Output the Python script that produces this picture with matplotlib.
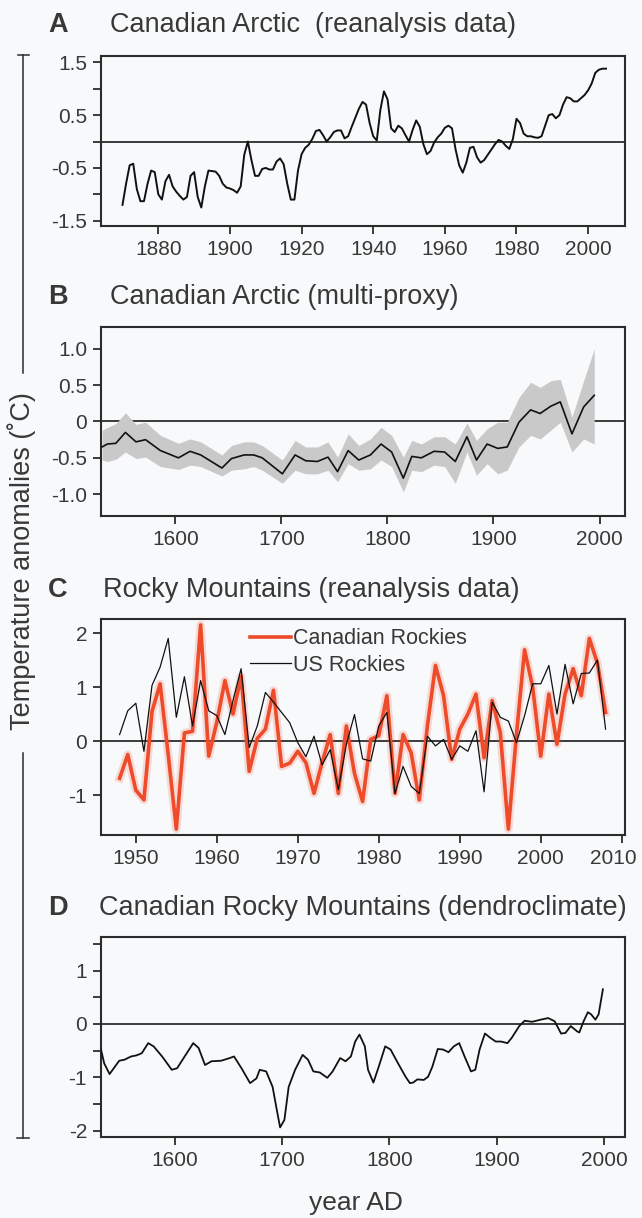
import numpy as np
import matplotlib.pyplot as plt
from matplotlib.lines import Line2D
from matplotlib.ticker import FixedLocator, FixedFormatter
from matplotlib.transforms import ScaledTranslation

# ---- panel A: Canadian Arctic reanalysis (annual) ----
a_years = list(range(1870, 2006))
a_vals = [-1.20, -0.80, -0.45, -0.42, -0.90, -1.13, -1.13, -0.80, -0.55, -0.58,
          -1.00, -1.10, -0.75, -0.63, -0.85, -0.95, -1.03, -1.10, -1.05, -0.65,
          -0.58, -1.05, -1.25, -0.85, -0.55, -0.56, -0.57, -0.65, -0.80, -0.87,
          -0.89, -0.92, -0.97, -0.85, -0.25, 0.00, -0.35, -0.65, -0.65, -0.52,
          -0.50, -0.53, -0.53, -0.38, -0.32, -0.43, -0.80, -1.10, -1.10, -0.55,
          -0.24, -0.12, -0.06, 0.05, 0.20, 0.22, 0.12, 0.00, 0.08, 0.18,
          0.21, 0.21, 0.06, 0.10, 0.28, 0.45, 0.62, 0.75, 0.70, 0.35,
          0.10, 0.02, 0.60, 0.95, 0.80, 0.25, 0.18, 0.30, 0.25, 0.12,
          0.00, 0.22, 0.40, 0.28, -0.05, -0.24, -0.18, -0.02, 0.08, 0.15,
          0.26, 0.30, 0.25, -0.15, -0.45, -0.59, -0.40, -0.12, -0.10, -0.30,
          -0.40, -0.35, -0.25, -0.15, -0.05, 0.03, 0.00, -0.08, -0.14, 0.05,
          0.43, 0.35, 0.15, 0.10, 0.10, 0.08, 0.07, 0.10, 0.30, 0.50,
          0.52, 0.44, 0.50, 0.70, 0.84, 0.82, 0.76, 0.76, 0.82, 0.88,
          0.97, 1.10, 1.30, 1.36, 1.38, 1.38]

# ---- panel B: Canadian Arctic multi-proxy ----
b_years = [1531, 1536, 1544, 1553, 1563, 1572, 1586, 1603, 1614, 1624,
           1644, 1653, 1665, 1674, 1682, 1701, 1713, 1723, 1734, 1744,
           1753, 1763, 1773, 1784, 1794, 1804, 1815, 1823, 1832, 1844,
           1854, 1864, 1875, 1884, 1894, 1904, 1913, 1924, 1935, 1944,
           1954, 1963, 1974, 1985, 1995]
b_vals = [-0.35, -0.31, -0.30, -0.15, -0.28, -0.25, -0.40, -0.50, -0.41, -0.46,
          -0.64, -0.51, -0.46, -0.46, -0.50, -0.72, -0.46, -0.54, -0.55, -0.49,
          -0.69, -0.40, -0.53, -0.46, -0.31, -0.42, -0.78, -0.48, -0.50, -0.41,
          -0.42, -0.55, -0.21, -0.53, -0.31, -0.37, -0.35, -0.01, 0.16, 0.11,
          0.21, 0.27, -0.17, 0.20, 0.36]
b_upper = [-0.12, -0.08, -0.03, 0.12, -0.04, -0.01, -0.19, -0.30, -0.24, -0.28,
           -0.46, -0.33, -0.28, -0.28, -0.33, -0.53, -0.26, -0.35, -0.35, -0.28,
           -0.49, -0.17, -0.33, -0.24, -0.08, -0.19, -0.49, -0.26, -0.31, -0.21,
           -0.21, -0.31, -0.02, -0.26, -0.10, -0.01, -0.01, 0.33, 0.54, 0.47,
           0.56, 0.58, 0.06, 0.56, 1.00]
b_lower = [-0.53, -0.55, -0.52, -0.42, -0.51, -0.49, -0.62, -0.66, -0.60, -0.62,
           -0.75, -0.67, -0.65, -0.62, -0.67, -0.85, -0.67, -0.72, -0.72, -0.67,
           -0.83, -0.58, -0.67, -0.65, -0.53, -0.62, -0.97, -0.67, -0.69, -0.60,
           -0.62, -0.85, -0.42, -0.74, -0.58, -0.72, -0.67, -0.35, -0.19, -0.24,
           -0.12, -0.01, -0.42, -0.24, -0.31]

# ---- panel C: Rocky Mountains reanalysis ----
c_years = list(range(1948, 2009))
c_canada = [-0.69, -0.25, -0.91, -1.09, 0.55, 1.06, -0.25, -1.63, 0.15, 0.18,
            2.15, -0.28, 0.35, 1.12, 0.50, 1.20, -0.56, 0.05, 0.22, 0.94,
            -0.47, -0.41, -0.19, -0.40, -0.97, -0.40, 0.12, -0.97, 0.28, -0.60,
            -1.12, 0.03, 0.10, 0.84, -0.97, 0.12, -0.22, -1.09, 0.28, 1.40,
            0.84, -0.34, 0.22, 0.50, 0.87, -0.31, 0.75, 0.16, -1.63, 0.12,
            1.69, 1.00, -0.28, 0.87, -0.06, 0.87, 1.34, 0.84, 1.90, 1.44,
            0.53]
c_us = [0.12, 0.56, 0.70, -0.19, 1.03, 1.37, 1.90, 0.44, 1.19, 0.28,
        1.12, 0.56, 0.47, 0.12, 0.75, 1.34, -0.12, 0.28, 0.90, 0.72,
        0.53, 0.34, -0.03, -0.29, 0.09, -0.44, -0.16, -0.90, -0.06, 0.49,
        -0.33, -0.37, 0.28, 0.53, -0.97, -0.47, -0.84, -0.97, 0.09, -0.09,
        0.03, -0.34, -0.09, -0.19, 0.19, -0.94, 0.72, 0.44, 0.37, -0.03,
        0.47, 1.06, 1.06, 1.40, 0.50, 1.42, 0.69, 1.25, 1.26, 1.50,
        0.22]

# ---- panel D: Canadian Rocky Mountains dendroclimate ----
d_years = [1531, 1534, 1539, 1544, 1548, 1553, 1559, 1564, 1569, 1575,
           1580, 1588, 1597, 1602, 1609, 1617, 1622, 1628, 1634, 1643,
           1651, 1655, 1662, 1670, 1676, 1679, 1685, 1691, 1695, 1698,
           1702, 1706, 1712, 1719, 1724, 1729, 1735, 1742, 1747, 1754,
           1759, 1764, 1768, 1772, 1777, 1780, 1785, 1790, 1796, 1801,
           1808, 1815, 1819, 1822, 1826, 1832, 1836, 1840, 1845, 1850,
           1855, 1860, 1865, 1870, 1876, 1880, 1884, 1889, 1894, 1899,
           1904, 1910, 1914, 1921, 1926, 1933, 1941, 1948, 1954, 1960,
           1964, 1969, 1975, 1977, 1981, 1985, 1988, 1992, 1995, 1999]
d_vals = [-0.48, -0.74, -0.94, -0.80, -0.69, -0.67, -0.61, -0.59, -0.55, -0.36,
          -0.42, -0.61, -0.86, -0.83, -0.61, -0.36, -0.45, -0.77, -0.70, -0.69,
          -0.64, -0.61, -0.83, -1.11, -1.02, -0.86, -0.89, -1.18, -1.62, -1.94,
          -1.80, -1.18, -0.86, -0.58, -0.67, -0.89, -0.91, -1.01, -0.89, -0.64,
          -0.70, -0.61, -0.33, -0.20, -0.42, -0.86, -1.10, -0.80, -0.42, -0.48,
          -0.74, -0.99, -1.11, -1.10, -1.04, -1.05, -0.99, -0.80, -0.47, -0.48,
          -0.53, -0.42, -0.36, -0.61, -0.89, -0.86, -0.48, -0.18, -0.26, -0.33,
          -0.33, -0.36, -0.26, -0.04, 0.06, 0.04, 0.08, 0.11, 0.05, -0.18,
          -0.17, -0.04, -0.14, -0.16, 0.05, 0.22, 0.18, 0.08, 0.18, 0.65]

W, H = 642, 1218
BG = '#f8f9fb'
INK = '#2b2b2b'
TXT = '#383838'
RED = '#ee4b2b'

plt.rcParams['font.family'] = ['Liberation Sans', 'DejaVu Sans']
plt.rcParams['text.color'] = TXT


def fx(px):
    return px / W


def fy(py):
    return 1 - py / H


def make_axes(top, bottom):
    ax = fig.add_axes([fx(101), fy(bottom), fx(625) - fx(101), fy(top) - fy(bottom)])
    ax.set_facecolor(BG)
    for s in ax.spines.values():
        s.set_linewidth(1.5)
        s.set_color(INK)
    ax.tick_params(direction='out', length=6, width=1.3, color=INK,
                   labelsize=15, labelcolor=TXT, pad=4, top=False, right=False)
    ax.axhline(0, color=INK, lw=1.3, zorder=1)
    return ax


def set_yticks(ax, ticks, labels):
    ax.yaxis.set_major_locator(FixedLocator(ticks))
    ax.yaxis.set_major_formatter(FixedFormatter(labels))


fig = plt.figure(figsize=(W / 100, H / 100), dpi=100, facecolor=BG)

# A
ax = make_axes(56, 226)
ax.plot(a_years, a_vals, color='#111111', lw=1.4, zorder=3)
ax.set_xlim(1864, 2010.3)
ax.set_ylim(-1.6, 1.62)
ax.set_xticks([1880, 1900, 1920, 1940, 1960, 1980, 2000])
set_yticks(ax, [-1.5, -1.0, -0.5, 0, 0.5, 1.0, 1.5],
           ['-1.5', '', '-0.5', '', '0.5', '', '1.5'])

# B
ax = make_axes(327, 516)
ax.fill_between(b_years, b_lower, b_upper, color='#c9c9c9', lw=0, zorder=2)
ax.plot(b_years, b_vals, color='#111111', lw=1.2, zorder=3)
ax.set_xlim(1530, 2024)
ax.set_ylim(-1.3, 1.3)
ax.set_xticks([1600, 1700, 1800, 1900, 2000])
set_yticks(ax, [-1.0, -0.5, 0, 0.5, 1.0], ['-1.0', '-0.5', '0', '0.5', '1.0'])

# C
ax = make_axes(619, 835)
ax.plot(c_years, c_canada, color=RED, lw=6, alpha=0.18, zorder=2,
        solid_joinstyle='round')
ax.plot(c_years, c_canada, color=RED, lw=2.6, zorder=3,
        solid_joinstyle='round', label='Canadian Rockies')
ax.plot(c_years, c_us, color='#111111', lw=0.9, zorder=4, label='US Rockies')
ax.set_xlim(1945.7, 2010.4)
ax.set_ylim(-1.74, 2.26)
ax.set_xticks([1950, 1960, 1970, 1980, 1990, 2000, 2010])
set_yticks(ax, [-1, 0, 1, 2], ['-1', '0', '1', '2'])
ax.legend(loc='upper left', bbox_to_anchor=(0.284, 0.957), frameon=False,
          fontsize=15.5, handlelength=1.9, handletextpad=0.1,
          borderpad=0, borderaxespad=0, labelspacing=0.25)
# last year label sits a little left of its tick, as in the original
last = ax.get_xticklabels()[-1]
last.set_transform(last.get_transform() +
                   ScaledTranslation(-8 / 100, 0, fig.dpi_scale_trans))

# D
ax = make_axes(937, 1137)
ax.plot(d_years, d_vals, color='#111111', lw=1.3, zorder=3,
        solid_joinstyle='round')
ax.set_xlim(1531, 2019.6)
ax.set_ylim(-2.12, 1.63)
ax.set_xticks([1600, 1700, 1800, 1900, 2000])
set_yticks(ax, [-2, -1.5, -1, -0.5, 0, 0.5, 1, 1.5],
           ['-2', '', '-1', '', '0', '', '1', ''])

# panel titles
titles = [('A', 'Canadian Arctic  (reanalysis data)', 25, 110),
          ('B', 'Canadian Arctic (multi-proxy)', 297, 110),
          ('C', 'Rocky Mountains (reanalysis data)', 590, 103),
          ('D', 'Canadian Rocky Mountains (dendroclimate)', 908, 99)]
for letter, text, y, x0 in titles:
    fig.text(fx(48), fy(y), letter, fontsize=19.5, fontweight='bold',
             va='center', ha='left', color=TXT)
    fig.text(fx(x0), fy(y), text, fontsize=19.5, va='center', ha='left',
             color=TXT)

fig.text(fx(356), fy(1203), 'year AD', fontsize=19, ha='center',
         va='center', color=TXT)
fig.text(fx(22), fy(561), 'Temperature anomalies (\u02daC)', fontsize=19.5,
         rotation=90, ha='center', va='center', color=TXT)

# bracket around the shared y label
bx = fx(23)
for y0, y1 in [(55, 373), (753, 1138)]:
    fig.add_artist(Line2D([bx, bx], [fy(y0), fy(y1)], color=INK, lw=1.1))
fig.add_artist(Line2D([fx(18), fx(29)], [fy(55), fy(55)], color=INK, lw=1.1))
fig.add_artist(Line2D([fx(17), fx(29)], [fy(1138), fy(1138)], color=INK, lw=1.1))

fig.savefig('out.png', dpi=100, facecolor=BG)
